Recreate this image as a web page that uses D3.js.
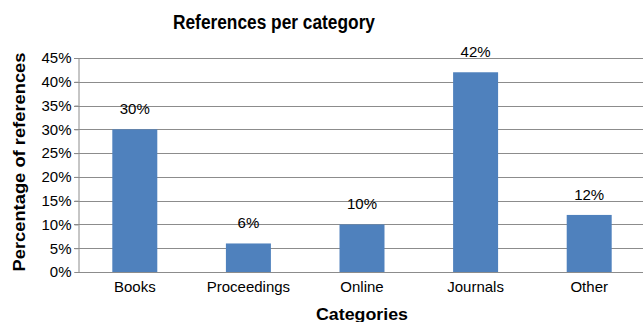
<!DOCTYPE html>
<html>
<head>
<meta charset="utf-8">
<script src="https://cdn.jsdelivr.net/npm/d3@7"></script>
<style>
  html, body { margin: 0; padding: 0; background: #fff; }
  svg { display: block; font-family: "Liberation Sans", Arial, Helvetica, sans-serif; }
</style>
</head>
<body>
<svg id="chart" width="643" height="322"></svg>
<script>
// Share of references by category (percent)
const categories = ["Books", "Proceedings", "Online", "Journals", "Other"];
const values = [30, 6, 10, 42, 12];
const yTicks = [0, 5, 10, 15, 20, 25, 30, 35, 40, 45];

const svg = d3.select("#chart");
const margin = { left: 78, right: -3, top: 58 };
const W = 643;
const plotBottom = 272;

const x = d3.scaleBand()
  .domain(categories)
  .range([margin.left, W - margin.right])
  .paddingInner(0.604)
  .paddingOuter(0.302);

const y = d3.scaleLinear()
  .domain([0, 45])
  .range([plotBottom, margin.top]);

// horizontal gridlines
svg.append("g")
  .selectAll("line")
  .data(yTicks.filter(d => d > 0))
  .join("line")
  .attr("x1", margin.left - 4)
  .attr("x2", W)
  .attr("y1", d => Math.round(y(d)) + 0.5)
  .attr("y2", d => Math.round(y(d)) + 0.5)
  .attr("stroke", "#8c8c8c")
  .attr("stroke-width", 1);

// y axis
const yAxis = d3.axisLeft(y)
  .tickValues(yTicks)
  .tickFormat(d => d + "%")
  .tickSize(4)
  .tickPadding(3);
const gy = svg.append("g")
  .attr("transform", `translate(${margin.left + 0.5},0)`)
  .call(yAxis);
gy.select(".domain").attr("stroke", "#8c8c8c");
gy.selectAll(".tick line").attr("stroke", "#8c8c8c");
gy.selectAll(".tick text")
  .attr("font-size", 15)
  .attr("fill", "#000")
  .attr("font-family", "Liberation Sans, Arial, sans-serif");

// bars
svg.append("g")
  .selectAll("rect")
  .data(values)
  .join("rect")
  .attr("x", (d, i) => x(categories[i]))
  .attr("width", x.bandwidth())
  .attr("y", d => y(d))
  .attr("height", d => plotBottom - y(d))
  .attr("fill", "#4f81bd");

// value labels
svg.append("g")
  .selectAll("text")
  .data(values)
  .join("text")
  .attr("x", (d, i) => x(categories[i]) + x.bandwidth() / 2)
  .attr("y", d => y(d) - 15)
  .attr("text-anchor", "middle")
  .attr("font-size", 15)
  .attr("fill", "#000")
  .text(d => d + "%");

// x axis
const xAxis = d3.axisBottom(x).tickSize(0).tickPadding(9);
const gx = svg.append("g")
  .attr("transform", `translate(0,${plotBottom + 0.5})`)
  .call(xAxis);
gx.select(".domain").attr("stroke", "#8c8c8c").attr("d", `M${margin.left},0H${W}`);
gx.selectAll(".tick text")
  .attr("font-size", 15)
  .attr("fill", "#000")
  .attr("font-family", "Liberation Sans, Arial, sans-serif");

// titles
svg.append("text")
  .attr("x", 274)
  .attr("y", 29)
  .attr("text-anchor", "middle")
  .attr("font-size", 19.5)
  .attr("font-weight", "bold")
  .attr("textLength", 202)
  .attr("lengthAdjust", "spacingAndGlyphs")
  .text("References per category");

svg.append("text")
  .attr("transform", "translate(25,162) rotate(-90)")
  .attr("text-anchor", "middle")
  .attr("font-size", 16.5)
  .attr("font-weight", "bold")
  .attr("textLength", 219)
  .attr("lengthAdjust", "spacingAndGlyphs")
  .text("Percentage of references");

svg.append("text")
  .attr("x", 362)
  .attr("y", 320)
  .attr("text-anchor", "middle")
  .attr("font-size", 16.5)
  .attr("font-weight", "bold")
  .attr("textLength", 92)
  .attr("lengthAdjust", "spacingAndGlyphs")
  .text("Categories");
</script>
</body>
</html>
